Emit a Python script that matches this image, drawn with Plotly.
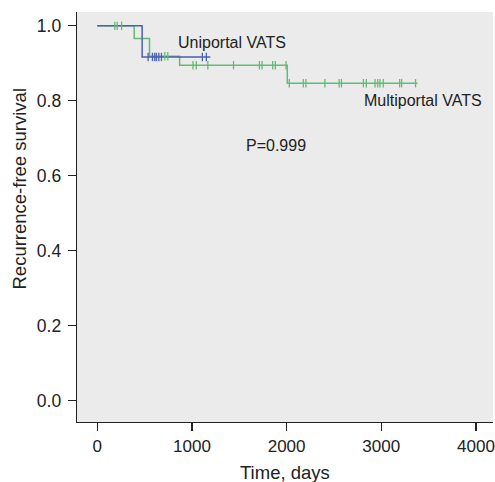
import plotly.graph_objects as go

# ---- data ----
multi_times = [0, 390, 552, 870, 2007, 3383]
multi_surv = [1.0, 0.966, 0.919, 0.895, 0.847, 0.847]
multi_censor = [186, 211, 257, 713, 745, 1011, 1046, 1168, 1439, 1713, 1741,
                1853, 1881, 1994, 2028, 2176, 2204, 2404, 2555, 2579, 2811,
                2842, 2934, 2962, 2986, 3021, 3194, 3215, 3362]

uni_times = [0, 474, 1194]
uni_surv = [1.0, 0.917, 0.917]
uni_censor = [537, 583, 607, 625, 650, 678, 1110, 1152]

x_ticks = [0, 1000, 2000, 3000, 4000]
y_ticks = [0.0, 0.2, 0.4, 0.6, 0.8, 1.0]
y_tick_labels = ["0.0", "0.2", "0.4", "0.6", "0.8", "1.0"]

BLUE = "#4a60b2"
GREEN = "#62bd70"
FONT = "Liberation Sans, Arial, sans-serif"
TXT = "#222222"


def surv_at(t, times, surv):
    s = surv[0]
    for ti, si in zip(times, surv):
        if ti <= t:
            s = si
    return s


fig = go.Figure()

fig.add_trace(go.Scatter(x=multi_times, y=multi_surv, mode="lines",
                         line=dict(color=GREEN, width=1.5, shape="hv"),
                         showlegend=False, hoverinfo="skip"))
fig.add_trace(go.Scatter(x=uni_times, y=uni_surv, mode="lines",
                         line=dict(color=BLUE, width=1.5, shape="hv"),
                         showlegend=False, hoverinfo="skip"))
fig.add_trace(go.Scatter(x=uni_censor,
                         y=[surv_at(t, uni_times, uni_surv) for t in uni_censor],
                         mode="markers",
                         marker=dict(symbol="line-ns", size=6,
                                     line=dict(color=BLUE, width=1.3)),
                         showlegend=False, hoverinfo="skip"))
fig.add_trace(go.Scatter(x=multi_censor,
                         y=[surv_at(t, multi_times, multi_surv) for t in multi_censor],
                         mode="markers",
                         marker=dict(symbol="line-ns", size=6,
                                     line=dict(color=GREEN, width=1.3)),
                         showlegend=False, hoverinfo="skip"))

ann_font = dict(family=FONT, size=16, color=TXT)
fig.add_annotation(x=836, y=0.956, text="Uniportal VATS", showarrow=False,
                   xanchor="left", yanchor="middle", font=ann_font)
fig.add_annotation(x=2800, y=0.800, text="Multiportal VATS", showarrow=False,
                   xanchor="left", yanchor="middle", font=ann_font)
fig.add_annotation(x=1546, y=0.682, text="P=0.999", showarrow=False,
                   xanchor="left", yanchor="middle", font=ann_font)

title_font = dict(family=FONT, size=18.5, color=TXT)
fig.add_annotation(xref="paper", yref="paper", x=0.5, y=-0.122,
                   text="Time, days", showarrow=False,
                   xanchor="center", yanchor="middle", font=title_font)
fig.add_annotation(xref="paper", yref="paper", x=-0.1394, y=0.5695,
                   text="Recurrence-free survival", showarrow=False,
                   textangle=-90, xanchor="center", yanchor="middle",
                   font=title_font)

fig.update_xaxes(range=[-214, 4180], tickvals=x_ticks,
                 ticktext=[str(v) for v in x_ticks], automargin=False,
                 showgrid=False, zeroline=False, showline=True,
                 linecolor="#222222", linewidth=1.3, ticks="outside",
                 ticklen=8, tickwidth=1.2, tickcolor="#222222",
                 tickfont=dict(family=FONT, size=17, color=TXT))
fig.update_yaxes(range=[-0.057, 1.037], tickvals=y_ticks,
                 ticktext=y_tick_labels, automargin=False,
                 showgrid=False, zeroline=False, showline=True,
                 linecolor="#222222", linewidth=1.3, ticks="outside",
                 ticklen=8, tickwidth=1.2, tickcolor="#222222",
                 ticklabelstandoff=3,
                 tickfont=dict(family=FONT, size=17.5, color=TXT))

fig.update_layout(width=495, height=482,
                  margin=dict(l=77, r=2, t=12, b=60),
                  plot_bgcolor="#ebebeb", paper_bgcolor="white",
                  showlegend=False)

fig.write_html("out.html",
               config={"displayModeBar": False, "staticPlot": True},
               post_script="document.body.style.margin='0';"
                           "document.body.style.overflow='hidden';")
